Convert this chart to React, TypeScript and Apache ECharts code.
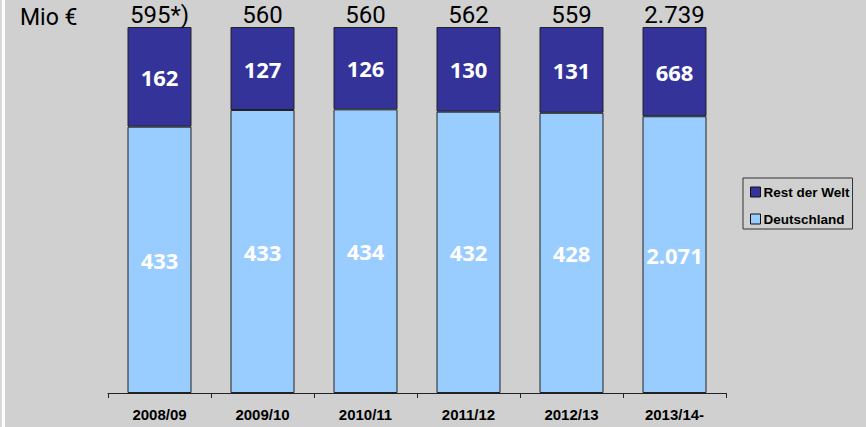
import React, { useEffect, useRef } from "react";
import * as echarts from "echarts";

const categories = ["2008/09", "2009/10", "2010/11", "2011/12", "2012/13", "2013/14-"];
const deutschland = [433, 433, 434, 432, 428, 2071];
const restDerWelt = [162, 127, 126, 130, 131, 668];
const totalSuffix = ["*)", "", "", "", "", ""];
const unitLabel = "Mio €";

function fmt(n: number): string {
  const s = String(Math.round(n));
  return s.replace(/\B(?=(\d{3})+(?!\d))/g, ".");
}

export default function App() {
  const ref = useRef<HTMLDivElement>(null);
  useEffect(() => {
    document.body.style.margin = "0";
    if (!ref.current) return;
    const chart = echarts.init(ref.current, null, { renderer: "svg" });
    const totals = deutschland.map((d, i) => d + restDerWelt[i]);
    const dePct = deutschland.map((d, i) => (d / totals[i]) * 100);
    const rwPct = restDerWelt.map((r, i) => (r / totals[i]) * 100);
    const innerLabel = {
      show: true,
      position: "inside",
      color: "#ffffff",
      fontFamily: "Noto Sans",
      fontWeight: "bold",
      fontSize: 22,
    };
    chart.setOption({
      animation: false,
      backgroundColor: "#d0d0d0",
      grid: { left: 108, right: 140, top: 27, bottom: 34 },
      legend: {
        orient: "vertical",
        left: 743,
        top: 178,
        padding: [4, 3, 0, 7],
        itemGap: 7,
        itemWidth: 10,
        itemHeight: 10,
        borderColor: "#333333",
        borderWidth: 1,
        data: [
          { name: "Rest der Welt", icon: "rect", itemStyle: { color: "#333399", borderColor: "#111", borderWidth: 1 } },
          { name: "Deutschland", icon: "rect", itemStyle: { color: "#99ccff", borderColor: "#111", borderWidth: 1 } },
        ],
        textStyle: {
          fontFamily: "Liberation Sans",
          fontWeight: "bold",
          fontSize: 13.5,
          color: "#000",
          lineHeight: 20,
          padding: [0, 0, 0, -2],
        },
      },
      xAxis: {
        type: "category",
        data: categories,
        axisLine: { lineStyle: { color: "#222", width: 1 } },
        axisTick: { show: true, length: 5, lineStyle: { color: "#222" } },
        axisLabel: {
          margin: 14,
          color: "#000",
          fontFamily: "Liberation Sans",
          fontWeight: "bold",
          fontSize: 15,
        },
      },
      yAxis: {
        type: "value",
        min: 0,
        max: 100,
        show: false,
        splitLine: { show: false },
      },
      graphic: [
        { type: "rect", left: 2, top: 0, shape: { width: 3, height: 427 }, style: { fill: "#ffffff" }, silent: true },
        { type: "rect", left: 0, top: 0, shape: { width: 2, height: 427 }, style: { fill: "#d9d9d9" }, silent: true },
        {
          type: "text",
          left: 20,
          top: 6,
          style: { text: unitLabel, fontFamily: "Roboto", fontSize: 23, fill: "#000" },
        },
      ],
      series: [
        {
          name: "Deutschland",
          type: "bar",
          stack: "s",
          barWidth: 64,
          data: dePct,
          itemStyle: { color: "#99ccff", borderColor: "#222", borderWidth: 1 },
          label: { ...innerLabel, formatter: (p: any) => fmt(deutschland[p.dataIndex]) },
        },
        {
          name: "Rest der Welt",
          type: "bar",
          stack: "s",
          barWidth: 64,
          data: rwPct,
          itemStyle: { color: "#333399", borderColor: "#222", borderWidth: 1 },
          label: { ...innerLabel, formatter: (p: any) => fmt(restDerWelt[p.dataIndex]) },
        },
        {
          name: "Summe",
          type: "scatter",
          data: totals.map(() => 100),
          symbolSize: 0,
          silent: true,
          itemStyle: { opacity: 1 },
          label: {
            show: true,
            position: "top",
            distance: 0,
            color: "#000",
            fontFamily: "Roboto",
            fontSize: 24,
            formatter: (p: any) => fmt(totals[p.dataIndex]) + totalSuffix[p.dataIndex],
          },
        },
      ],
    });
    return () => chart.dispose();
  }, []);
  return <div ref={ref} style={{ width: 866, height: 427 }} />;
}
